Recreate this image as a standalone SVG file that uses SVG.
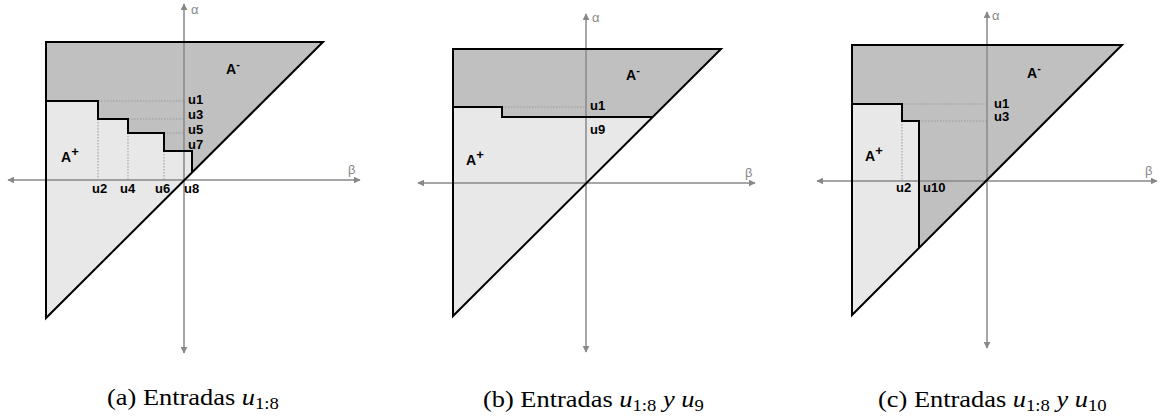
<svg xmlns="http://www.w3.org/2000/svg" width="1169" height="416" viewBox="0 0 1169 416">
<defs>
<marker id="ah" viewBox="0 0 10 10" refX="9" refY="5" markerWidth="7" markerHeight="7" markerUnits="userSpaceOnUse" orient="auto-start-reverse">
<path d="M0,0 L10,5 L0,10 z" fill="#888"/>
</marker>
<style>
.dk{fill:#c0c0c0;stroke:none}
.lt{fill:#e8e8e8;stroke:none}
.ol{fill:none;stroke:#000;stroke-width:2;stroke-linejoin:miter}
.dot{fill:none;stroke:#999;stroke-width:1;stroke-dasharray:1.5 1.5}
.ax{fill:none;stroke:#888;stroke-width:1.5;marker-start:url(#ah);marker-end:url(#ah)}
.lb{font-family:"Liberation Sans",Arial,sans-serif;font-weight:bold;font-size:13px;fill:#000}
.ar{font-family:"Liberation Sans",Arial,sans-serif;font-weight:bold;font-size:14px;fill:#000}
.gk{font-family:"Liberation Sans",Arial,sans-serif;font-size:13px;fill:#888}
.cap{font-family:"Liberation Serif","Times New Roman",serif;font-size:24px;fill:#000}
</style>
</defs>

<g id="panel-a">
<polygon class="lt" points="46,101 98,101 98,119 128,119 128,133 164,133 164,151 192,151 192,172 46,318"/>
<polygon class="dk" points="46,42 323,42 192,172 192,151 164,151 164,133 128,133 128,119 98,119 98,101 46,101"/>
<g class="dot">
<line x1="98" y1="101" x2="184" y2="101"/>
<line x1="128" y1="119" x2="184" y2="119"/>
<line x1="164" y1="133" x2="184" y2="133"/>
<line x1="98" y1="119" x2="98" y2="180"/>
<line x1="128" y1="133" x2="128" y2="180"/>
<line x1="164" y1="151" x2="164" y2="180"/>
</g>
<line class="ax" x1="8" y1="180" x2="360" y2="180"/>
<line class="ax" x1="184" y1="353" x2="184" y2="4"/>
<polygon class="ol" points="46,42 323,42 46,318"/>
<polyline class="ol" points="46,101 98,101 98,119 128,119 128,133 164,133 164,151 192,151 192,172"/>
<text class="gk" x="191" y="14">α</text>
<text class="gk" x="348" y="174">β</text>
<text class="ar" x="226" y="74">A<tspan font-size="11" dy="-6">-</tspan></text>
<text class="ar" x="61" y="162">A<tspan font-size="13" dy="-6">+</tspan></text>
<text class="lb" x="188" y="104">u1</text>
<text class="lb" x="188" y="119">u3</text>
<text class="lb" x="188" y="134">u5</text>
<text class="lb" x="188" y="149">u7</text>
<text class="lb" x="92" y="193">u2</text>
<text class="lb" x="120" y="193">u4</text>
<text class="lb" x="155" y="193">u6</text>
<text class="lb" x="184" y="193">u8</text>
<text class="cap" transform="translate(107,405) scale(1.1,1)">(a) Entradas <tspan font-style="italic">u</tspan><tspan font-size="17" dy="4">1:8</tspan></text>
</g>

<g id="panel-b">
<polygon class="lt" points="453,107 502,107 502,117 652,117 453,316"/>
<polygon class="dk" points="453,49 721,49 652,117 502,117 502,107 453,107"/>
<line class="dot" x1="502" y1="107" x2="586" y2="107"/>
<line class="ax" x1="418" y1="183" x2="755" y2="183"/>
<line class="ax" x1="586" y1="352" x2="586" y2="14"/>
<polygon class="ol" points="453,49 721,49 453,316"/>
<polyline class="ol" points="453,107 502,107 502,117 652,117"/>
<text class="gk" x="592" y="22">α</text>
<text class="gk" x="745" y="177">β</text>
<text class="ar" x="626" y="80">A<tspan font-size="11" dy="-6">-</tspan></text>
<text class="ar" x="466" y="165">A<tspan font-size="13" dy="-6">+</tspan></text>
<text class="lb" x="590" y="110">u1</text>
<text class="lb" x="590" y="134">u9</text>
<text class="cap" transform="translate(483,407) scale(1.1,1)">(b) Entradas <tspan font-style="italic">u</tspan><tspan font-size="17" dy="4">1:8</tspan><tspan dy="-4" font-style="italic"> y u</tspan><tspan font-size="17" dy="4">9</tspan></text>
</g>

<g id="panel-c">
<polygon class="lt" points="852,104 902,104 902,121 919,121 919,248 852,315"/>
<polygon class="dk" points="852,45 1122,45 919,248 919,121 902,121 902,104 852,104"/>
<g class="dot">
<line x1="902" y1="104" x2="987" y2="104"/>
<line x1="919" y1="121" x2="987" y2="121"/>
<line x1="902" y1="121" x2="902" y2="181"/>
</g>
<line class="ax" x1="817" y1="181" x2="1157" y2="181"/>
<line class="ax" x1="987" y1="348" x2="987" y2="12"/>
<polygon class="ol" points="852,45 1122,45 852,315"/>
<polyline class="ol" points="852,104 902,104 902,121 919,121 919,248"/>
<text class="gk" x="992" y="20">α</text>
<text class="gk" x="1145" y="175">β</text>
<text class="ar" x="1027" y="78">A<tspan font-size="11" dy="-6">-</tspan></text>
<text class="ar" x="865" y="161">A<tspan font-size="13" dy="-6">+</tspan></text>
<text class="lb" x="994" y="108">u1</text>
<text class="lb" x="994" y="121">u3</text>
<text class="lb" x="896" y="192">u2</text>
<text class="lb" x="923" y="192">u10</text>
<text class="cap" transform="translate(878,407) scale(1.1,1)">(c) Entradas <tspan font-style="italic">u</tspan><tspan font-size="17" dy="4">1:8</tspan><tspan dy="-4" font-style="italic"> y u</tspan><tspan font-size="17" dy="4">10</tspan></text>
</g>
</svg>
